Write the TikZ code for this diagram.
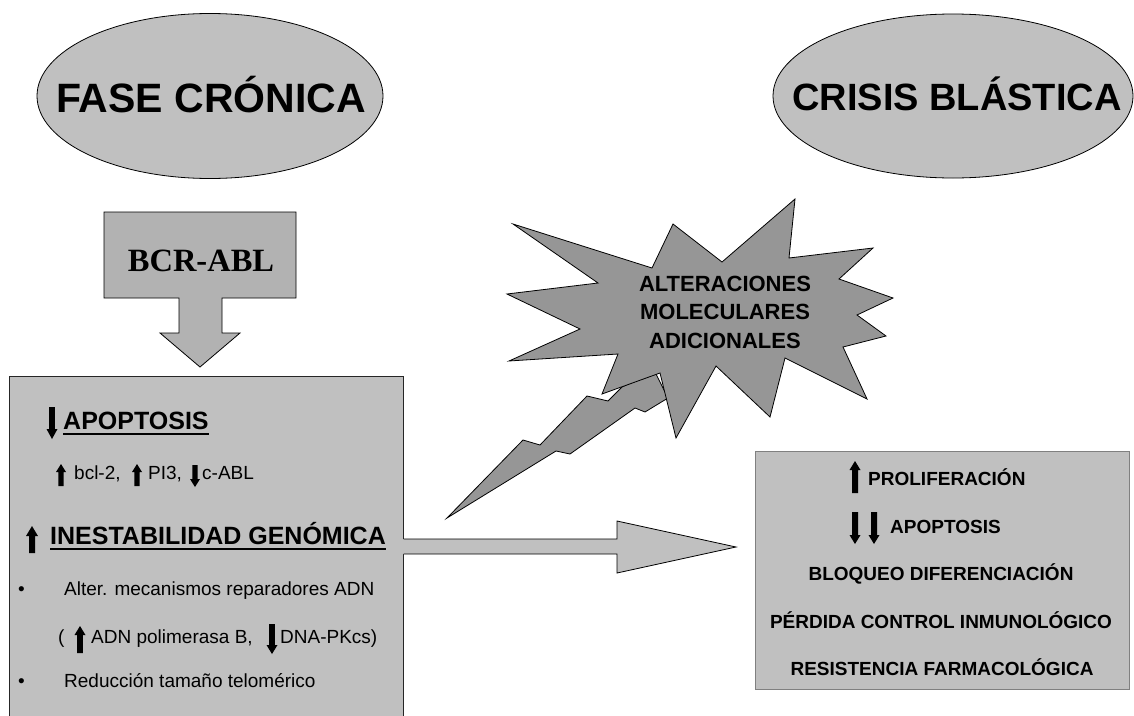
\documentclass[tikz,border=0pt]{standalone}
\usepackage{fontspec}
\setmainfont{Liberation Sans}
\newfontfamily\timesfont{Liberation Serif}
\usetikzlibrary{shapes.geometric}

\definecolor{lightgrey}{RGB}{192,192,192}
\definecolor{midgrey}{RGB}{178,178,178}
\definecolor{stargrey}{RGB}{150,150,150}
\definecolor{edgegrey}{RGB}{128,128,128}

% solid block arrows used inside the text: x, y of flat end, y of tip,
% half shaft width, half head width, head length
\newcommand\arrup[6]{%
  \fill[black] (#1-#4,#2) -- (#1+#4,#2) -- (#1+#4,#3+#6) -- (#1+#5,#3+#6)
    -- (#1,#3) -- (#1-#5,#3+#6) -- (#1-#4,#3+#6) -- cycle;}
\newcommand\arrdn[6]{%
  \fill[black] (#1-#4,#2) -- (#1+#4,#2) -- (#1+#4,#3-#6) -- (#1+#5,#3-#6)
    -- (#1,#3) -- (#1-#5,#3-#6) -- (#1-#4,#3-#6) -- cycle;}

\begin{document}
\begin{tikzpicture}[x=1pt,y=-1pt,
  phase/.style={ellipse, draw=black, line width=0.8pt, fill=lightgrey, inner sep=0pt},
  title/.style={inner sep=0pt, anchor=base, font=\bfseries\fontsize{41}{48}\selectfont},
  lbl/.style={inner sep=0pt, anchor=base west},
  head/.style={lbl, font=\bfseries\fontsize{25}{30}\selectfont},
  body/.style={lbl, font=\fontsize{19}{23}\selectfont},
  rbold/.style={inner sep=0pt, font=\bfseries\fontsize{19}{23}\selectfont},
  uline/.style={line width=2pt},
  shape line/.style={draw=black, line width=0.8pt},
]
\useasboundingbox (0,0) rectangle (1134,715);

% phase ellipses
\node[phase, minimum width=346, minimum height=165] (fase) at (210,96) {};
\node[title] (fasetxt) at (211,112) {FASE CRÓNICA};
\node[phase, minimum width=360, minimum height=164] (crisis) at (953,96) {};
\node[title, font=\bfseries\fontsize{38}{45}\selectfont] (crisistxt) at (957,110) {CRISIS BLÁSTICA};

% BCR-ABL callout arrow
\filldraw[shape line, fill=midgrey] (104,212) -- (296,212) -- (296,298) -- (222,298)
  -- (222,333) -- (240,333) -- (200,367) -- (160,333) -- (179,333) -- (179,298)
  -- (104,298) -- cycle;
\node[inner sep=0pt, anchor=base, font=\timesfont\bfseries\fontsize{32.5}{38}\selectfont]
  (bcr) at (201,271) {BCR-ABL};

% chronic phase box (runs past the lower edge)
\node[draw=black!85, line width=1.2pt, fill=lightgrey, anchor=north west,
  minimum width=394, minimum height=350, inner sep=0pt] (cfbox) at (9,376) {};

% block arrow towards the blast crisis box
\fill[lightgrey] (402.2,539) -- (617,539) -- (617,521) -- (736,547) -- (617,573)
  -- (617,554) -- (402.2,554) -- cycle;
\draw[shape line] (403.6,539) -- (617,539) -- (617,521) -- (736,547) -- (617,573)
  -- (617,554) -- (403.6,554);

% lightning bolt
\filldraw[shape line, fill=stargrey] (447,518) -- (523,440) -- (540,445) -- (587,396)
  -- (608,401) -- (622,387) -- (655,372) -- (668,398) -- (645,412) -- (635,408)
  -- (570,454) -- (556,451) -- cycle;

% explosion
\filldraw[shape line, fill=stargrey] (513,224) -- (652,268) -- (673,224) -- (722,262)
  -- (795,199) -- (789,258) -- (873,248) -- (839,279) -- (893,298) -- (857,315)
  -- (886,336) -- (843,347) -- (867,399) -- (785,358) -- (770,417) -- (716,366)
  -- (676,438) -- (660,373) -- (602,394) -- (618,354) -- (509,361) -- (580,329)
  -- (507,294) -- (598,283) -- cycle;
\node[inner sep=0pt, align=center, font=\bfseries\fontsize{22}{28.5}\selectfont]
  (alter) at (725,312) {ALTERACIONES\\MOLECULARES\\ADICIONALES};

% contents of the chronic phase box
\arrdn{52}{407}{439}{2.8}{5.5}{10}
\node[head] (apop) at (63,429) {APOPTOSIS};
\draw[uline] ([yshift=-5pt]apop.base west) -- ([yshift=-5pt]apop.base east);

\arrup{61}{486}{464}{2.6}{5}{8}
\node[body] (bcl) at (74,479) {bcl-2,};
\arrup{137}{486}{464}{2.6}{5}{8}
\node[body] (pi3) at (148,479) {PI3,};
\arrdn{195}{465}{487}{2.6}{5}{8}
\node[body] (cabl) at (202,479) {c-ABL};

\arrup{32}{553}{526}{3}{6}{10}
\node[head] (inest) at (50,544) {INESTABILIDAD GENÓMICA};
\draw[uline] ([yshift=-5pt]inest.base west) -- ([yshift=-5pt]inest.base east);

\node[body] (b1) at (18,595) {•};
\node[body] (alterad) at (64,595) {Alter. mecanismos reparadores ADN};
\node[body] (paren) at (58,643) {(};
\arrup{80}{653}{626}{2.8}{5.5}{9}
\node[body] (pol) at (91,643) {ADN polimerasa B,};
\arrdn{272}{624}{654}{2.8}{5.5}{9}
\node[body] (pkcs) at (280,643) {DNA-PKcs)};
\node[body] (b2) at (18,687) {•};
\node[body] (telo) at (64,687) {Reducción tamaño telomérico};

% blast crisis box
\node[draw=edgegrey, line width=1.2pt, fill=lightgrey, anchor=north west,
  minimum width=374, minimum height=238, inner sep=0pt] (cbbox) at (755,451) {};
\arrup{855}{493}{461}{3}{5.5}{9}
\node[rbold, anchor=base west] (prolif) at (868,485) {PROLIFERACIÓN};
\arrdn{855}{512}{544}{3}{5.5}{9}
\arrdn{874}{512}{544}{3}{5.5}{9}
\node[rbold, anchor=base west] (apop2) at (890,533) {APOPTOSIS};
\node[rbold, anchor=base] (bloq) at (941,580) {BLOQUEO DIFERENCIACIÓN};
\node[rbold, anchor=base] (perd) at (941,628) {PÉRDIDA CONTROL INMUNOLÓGICO};
\node[rbold, anchor=base] (resis) at (942,675) {RESISTENCIA FARMACOLÓGICA};
\end{tikzpicture}
\end{document}
